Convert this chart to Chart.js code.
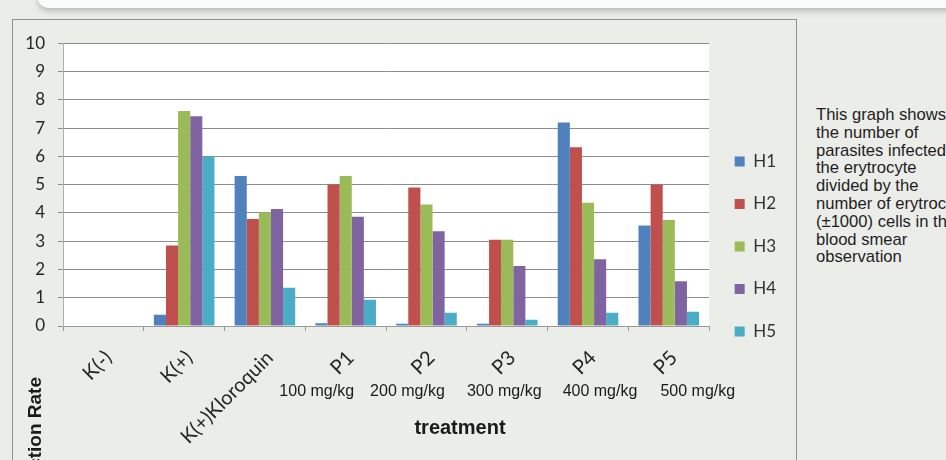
<!DOCTYPE html>
<html>
<head>
<meta charset="utf-8">
<script src="https://cdn.jsdelivr.net/npm/chart.js@4/dist/chart.umd.min.js"></script>
<style>
  html, body { margin: 0; padding: 0; width: 946px; height: 460px; overflow: hidden; background: #ebede9; }
  #topbar { position: absolute; left: 38px; right: -20px; top: -12px; height: 20px; background: #fbfbfb;
            border-radius: 10px; box-shadow: 0 3px 6px rgba(0,0,0,0.22); }
  #frame { position: absolute; left: 12px; top: 19px; width: 783px; height: 520px; background: #ebede9;
           border: 1px solid #8f8f8f; }
  #chart { position: absolute; left: 13px; top: 20px; }
  #note { position: absolute; left: 816px; top: 106px; width: 200px; font-family: "Liberation Sans", Arial, sans-serif;
          font-size: 16.6px; line-height: 17.8px; color: #1e1e1e; white-space: nowrap; }
</style>
</head>
<body>
<div id="topbar"></div>
<div id="frame"></div>
<canvas id="chart" width="783" height="440"></canvas>
<div id="note">This graph shows<br>the number of<br>parasites infected<br>the erytrocyte<br>divided by the<br>number of erytrocyte<br>(±1000) cells in the<br>blood smear<br>observation</div>
<script>
// Treatment groups on the x axis
const categories = ['K(-)', 'K(+)', 'K(+)Kloroquin', 'P1', 'P2', 'P3', 'P4', 'P5'];
// Dose written under each extract group
const doses = ['', '', '', '100 mg/kg', '200 mg/kg', '300 mg/kg', '400 mg/kg', '500 mg/kg'];
// Infection rate per observation day
const H1 = [0, 0.4, 5.3, 0.1, 0.08, 0.08, 7.2, 3.55];
const H2 = [0, 2.85, 3.78, 5.0, 4.9, 3.05, 6.32, 5.0];
const H3 = [0, 7.6, 4.02, 5.3, 4.3, 3.05, 4.36, 3.75];
const H4 = [0, 7.42, 4.14, 3.86, 3.35, 2.12, 2.36, 1.58];
const H5 = [0, 6.0, 1.35, 0.93, 0.47, 0.22, 0.47, 0.5];
const seriesNames = ['H1', 'H2', 'H3', 'H4', 'H5'];
const yTicks = [0, 1, 2, 3, 4, 5, 6, 7, 8, 9, 10];

const colors = ['#4f81bd', '#c0504d', '#9bbb59', '#8064a2', '#4bacc6'];
const series = [H1, H2, H3, H4, H5];

const calibriLike = 'Lato, "Open Sans", sans-serif';
const arialLike = '"Liberation Sans", Arial, sans-serif';

// white plotting area
const plotBackground = {
  id: 'plotBackground',
  beforeDraw(chart) {
    const { ctx, chartArea: a } = chart;
    ctx.save();
    ctx.fillStyle = '#ffffff';
    ctx.fillRect(a.left, a.top, a.right - a.left, a.bottom - a.top);
    ctx.restore();
  }
};

// axis titles and dose captions
const doseShift = [0, 0, 0, -29, -19, -3, 12, 29];
const captions = {
  id: 'captions',
  afterDraw(chart) {
    const { ctx } = chart;
    const x = chart.scales.x;
    ctx.save();
    ctx.fillStyle = '#1a1a1a';
    ctx.textBaseline = 'middle';
    ctx.textAlign = 'center';
    ctx.font = '16px ' + arialLike;
    doses.forEach((d, i) => {
      if (d) ctx.fillText(d, x.getPixelForValue(i) + doseShift[i], 372);
    });
    ctx.font = 'bold 20px ' + arialLike;
    ctx.fillText('treatment', 447, 408);
    ctx.font = 'bold 19px ' + arialLike;
    ctx.translate(23, 357);
    ctx.rotate(-Math.PI / 2);
    ctx.textAlign = 'right';
    ctx.fillText('Infection Rate', 0, 0);
    ctx.restore();
  }
};

new Chart(document.getElementById('chart'), {
  type: 'bar',
  data: {
    labels: categories,
    datasets: seriesNames.map((name, i) => ({
      label: name,
      data: series[i],
      backgroundColor: colors[i],
      borderWidth: 0,
      categoryPercentage: 0.75,
      barPercentage: 1.0
    }))
  },
  options: {
    responsive: false,
    animation: false,
    layout: { padding: { top: 18, bottom: 5, left: 0, right: 10 } },
    plugins: {
      tooltip: { enabled: false },
      legend: {
        position: 'right',
        maxWidth: 80,
        labels: {
          boxWidth: 10,
          boxHeight: 10,
          padding: 25.5,
          color: '#333',
          font: { family: calibriLike, size: 17 }
        }
      }
    },
    scales: {
      x: {
        afterFit(scale) { scale.height = 129; },
        grid: { drawOnChartArea: false, drawTicks: true, tickLength: 5, color: '#9a9a9a', offset: true },
        border: { display: true, color: '#9a9a9a' },
        ticks: {
          minRotation: 45, maxRotation: 45, padding: 15, labelOffset: 5,
          color: '#262626',
          font: { family: calibriLike, size: 20 }
        }
      },
      y: {
        min: 0, max: 10,
        afterFit(scale) { scale.width = 50; },
        afterBuildTicks(scale) { scale.ticks = yTicks.map(v => ({ value: v })); },
        grid: { color: '#8c8c8c', tickLength: 5 },
        border: { display: true, color: '#b0b0b0' },
        ticks: {
          padding: 13,
          color: '#262626',
          font: { family: calibriLike, size: 17 }
        }
      }
    }
  },
  plugins: [plotBackground, captions]
});
</script>
</body>
</html>
